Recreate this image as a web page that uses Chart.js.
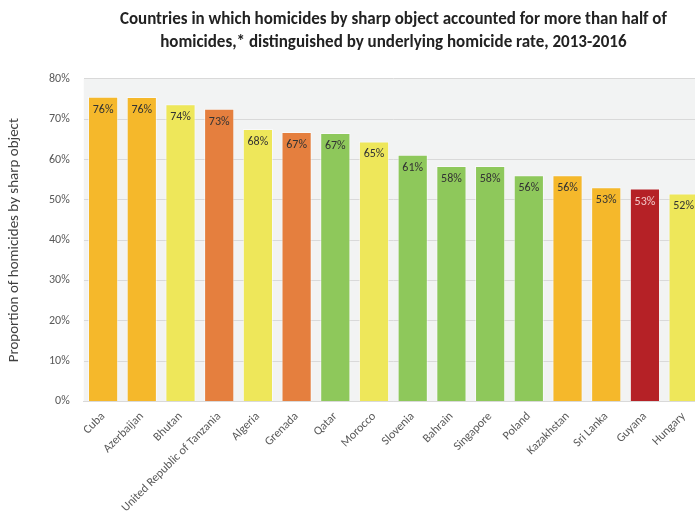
<!DOCTYPE html>
<html>
<head>
<meta charset="utf-8">
<script src="https://cdn.jsdelivr.net/npm/chart.js@4"></script>
<style>
  html, body { margin: 0; padding: 0; background: #fff; overflow: hidden; }
  #wrap { width: 703px; height: 513px; }
</style>
</head>
<body>
<div id="wrap"><canvas id="chart" width="703" height="513"></canvas></div>
<script>
const countries = ['Cuba', 'Azerbaijan', 'Bhutan', 'United Republic of Tanzania', 'Algeria', 'Grenada',
  'Qatar', 'Morocco', 'Slovenia', 'Bahrain', 'Singapore', 'Poland', 'Kazakhstan', 'Sri Lanka', 'Guyana', 'Hungary'];
const sharpShare = [75.6, 75.5, 73.7, 72.6, 67.6, 66.8, 66.6, 64.5, 61.2, 58.4, 58.4, 56.1, 56.1, 53.1, 52.8, 51.6];
// underlying homicide rate band for each country
const rateBand = ['mid', 'mid', 'low', 'high', 'low', 'high', 'lowest', 'low', 'lowest', 'lowest', 'lowest', 'lowest', 'mid', 'mid', 'highest', 'low'];
const yTicks = [0, 10, 20, 30, 40, 50, 60, 70, 80];

const bandColor = {
  lowest: '#8ec85b',
  low: '#eee75a',
  mid: '#f5b82b',
  high: '#e57f3e',
  highest: '#b52126'
};

const FONT = "Carlito, Calibri, Lato, 'Open Sans', sans-serif";

const plotBg = {
  id: 'plotBg',
  beforeDraw(chart) {
    const { ctx, chartArea: a } = chart;
    ctx.save();
    ctx.fillStyle = '#f2f3f3';
    ctx.fillRect(a.left, a.top, a.right - a.left, a.bottom - a.top);
    ctx.restore();
  }
};

const barLabels = {
  id: 'barLabels',
  afterDatasetsDraw(chart) {
    const { ctx } = chart;
    const meta = chart.getDatasetMeta(0);
    ctx.save();
    ctx.font = '12px ' + FONT;
    ctx.textAlign = 'center';
    ctx.textBaseline = 'top';
    meta.data.forEach((bar, i) => {
      ctx.fillStyle = rateBand[i] === 'highest' ? '#f3c9c9' : '#333333';
      ctx.fillText(Math.round(sharpShare[i]) + '%', bar.x, bar.y + 7);
    });
    ctx.restore();
  }
};

new Chart(document.getElementById('chart'), {
  type: 'bar',
  data: {
    labels: countries,
    datasets: [{
      data: sharpShare,
      backgroundColor: rateBand.map(b => bandColor[b]),
      borderColor: 'rgba(255,255,255,0.5)',
      borderWidth: 1,
      categoryPercentage: 1,
      barPercentage: 0.78
    }]
  },
  options: {
    responsive: false,
    animation: false,
    layout: { padding: { top: 4, left: 5, right: 0, bottom: -2 } },
    plugins: {
      legend: { display: false },
      tooltip: { enabled: false },
      title: {
        display: true,
        fullSize: false,
        text: ['Countries in which homicides by sharp object accounted for more than half of',
               'homicides,* distinguished by underlying homicide rate, 2013-2016'],
        color: '#222',
        font: { family: FONT, size: 17, weight: 'bold', lineHeight: 1.35 },
        padding: { top: 4, bottom: 25 }
      }
    },
    scales: {
      x: {
        grid: { display: false },
        border: { color: '#d9d9d9' },
        ticks: {
          color: '#595959',
          font: { family: FONT, size: 12 },
          maxRotation: 45,
          minRotation: 45,
          autoSkip: false,
          padding: 0
        }
      },
      y: {
        min: 0,
        max: 80,
        afterBuildTicks(axis) { axis.ticks = yTicks.map(v => ({ value: v })); },
        grid: { color: '#d9d9d9', drawTicks: false, lineWidth: 1 },
        border: { display: false },
        ticks: {
          color: '#595959',
          font: { family: FONT, size: 12 },
          padding: 14,
          callback: v => v + '%'
        },
        title: {
          display: true,
          text: 'Proportion of homicides by sharp object',
          color: '#404040',
          font: { family: FONT, size: 15 },
          padding: { top: 0, bottom: 12 }
        }
      }
    }
  },
  plugins: [plotBg, barLabels]
});
</script>
</body>
</html>
